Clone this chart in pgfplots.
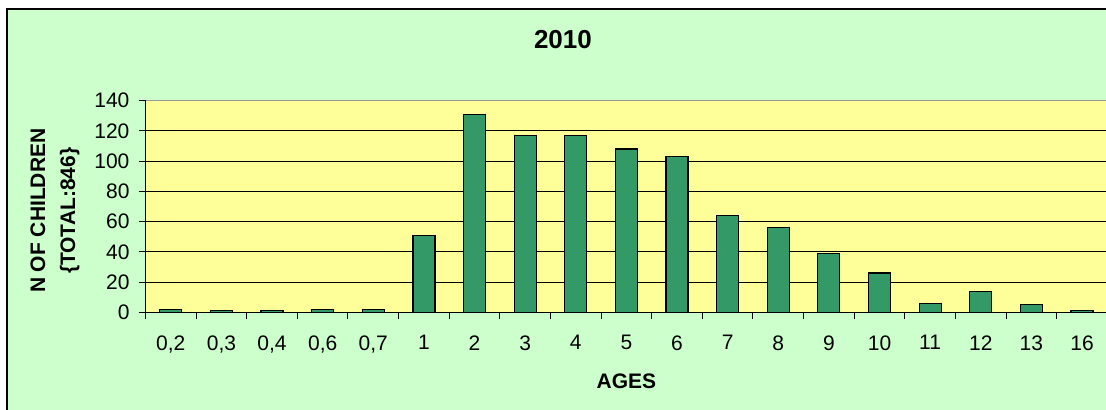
\documentclass[border=0pt]{standalone}
\usepackage{fontspec}
\setmainfont{Liberation Sans}
\usepackage{pgfplots}
\pgfplotsset{compat=1.18}
\definecolor{chartbg}{HTML}{CCFFCC}
\definecolor{plotbg}{HTML}{FFFF99}
\definecolor{barfill}{HTML}{339966}

\begin{document}
\begin{tikzpicture}
\useasboundingbox (0,0) rectangle (553pt,-204.5pt);
\clip (0,0) rectangle (553pt,-204.5pt);
% chart area (cropped on the right and at the bottom)
\fill[chartbg] (3.5pt,-4.5pt) rectangle (560pt,-210pt);
\draw[black, line width=0.6pt] (3.5pt,-210pt) -- (3.5pt,-4.5pt) -- (560pt,-4.5pt);
\begin{axis}[
  at={(72.75pt,-156.15pt)}, anchor=south west,
  scale only axis, width=480.9pt, height=105.8pt,
  clip=false,
  ybar, bar width=11pt,
  xmin=-0.5, xmax=18.5, ymin=0, ymax=140,
  ytick={0,20,...,120},
  extra y ticks={140},
  extra y tick style={grid=none},
  xtick={-0.5,0.5,...,18.5},
  x tick label as interval,
  xticklabels={{0,2},{0,3},{0,4},{0,6},{0,7},1,2,3,4,5,6,7,8,9,10,11,12,13,16},
  ymajorgrids=true,
  grid style={black, line width=0.5pt},
  axis x line*=bottom, axis y line*=left,
  axis line style={black, line width=0.6pt, -},
  axis background/.style={fill=plotbg, draw=gray!80, line width=0.6pt},
  tick align=outside,
  major tick length=3.5pt,
  tick style={black, line width=0.5pt},
  ticklabel style={font=\fontsize{10.5}{12}\selectfont},
  /pgf/number format/assume math mode=true,
  xticklabel style={yshift=-4.5pt},
  yticklabel style={xshift=-1pt},
]
\addplot[fill=barfill, draw=black, line width=0.6pt] coordinates {
  (0,2)(1,1)(2,1)(3,2)(4,2)(5,51)(6,131)(7,117)(8,117)(9,108)
  (10,103)(11,64)(12,56)(13,39)(14,26)(15,6)(16,14)(17,5)(18,1)};
\node[font=\bfseries\fontsize{13}{15}\selectfont] at (axis description cs:0.434,1.287) {2010};
\node[font=\bfseries\fontsize{10.5}{12}\selectfont] at (axis description cs:0.5,-0.325) {AGES};
\node[rotate=90, align=center, font=\bfseries\fontsize{10.5}{15}\selectfont]
  at (axis description cs:-0.094,0.48) {N OF CHILDREN\\\{TOTAL:846\}};
\end{axis}
\end{tikzpicture}
\end{document}
